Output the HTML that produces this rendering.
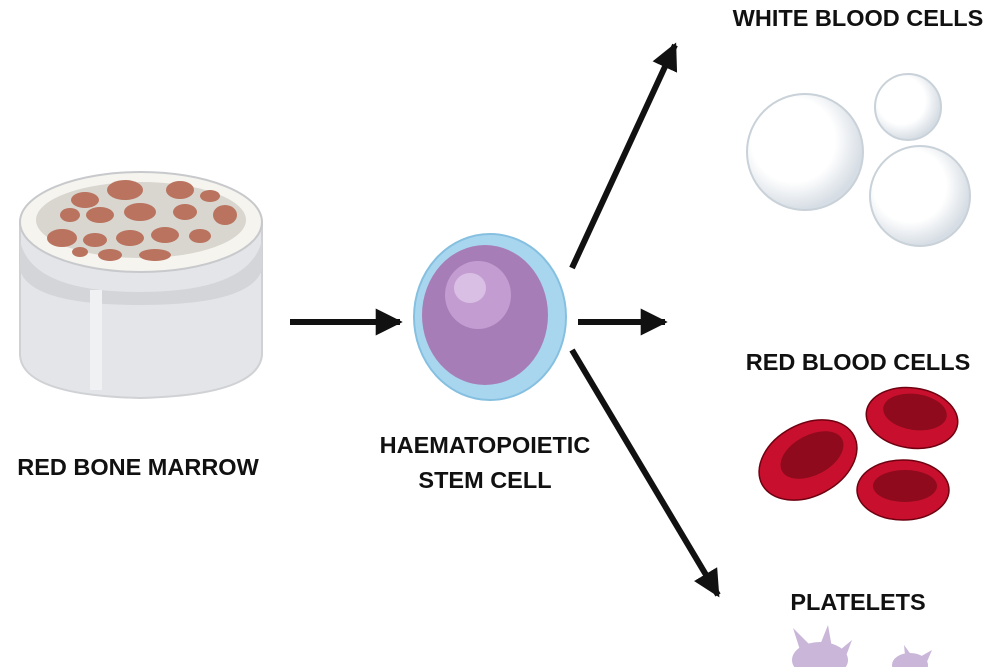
<!DOCTYPE html>
<html><head><meta charset="utf-8"><style>
html,body{margin:0;padding:0;background:#fff;width:1000px;height:667px;overflow:hidden}
svg{display:block}
text{font-family:"Liberation Sans",sans-serif;font-weight:bold;font-size:23.5px;fill:#111}
</style></head><body>
<svg width="1000" height="667" viewBox="0 0 1000 667">
<defs>
<marker id="ah" viewBox="0 0 10 10" refX="9" refY="5" markerWidth="4.5" markerHeight="4.5" orient="auto"><path d="M0,0 L10,5 L0,10 Z" fill="#111"/></marker>
<radialGradient id="wbc" cx="0.4" cy="0.4" r="0.6"><stop offset="0.6" stop-color="#fff"/><stop offset="1" stop-color="#d6dde4"/></radialGradient>
</defs>
<!-- bone -->
<path d="M20,222 L20,355 Q22,395 140,398 Q258,395 262,355 L262,222 Z" fill="#e4e5e8" stroke="#cfd1d4" stroke-width="2"/>
<path d="M20,240 Q30,292 140,292 Q250,292 262,240 L262,270 Q250,305 140,305 Q30,305 20,270Z" fill="#d3d5d9"/>
<rect x="90" y="290" width="12" height="100" fill="#f0f1f3"/>
<ellipse cx="141" cy="222" rx="121" ry="50" fill="#f5f4ee" stroke="#c8c9cc" stroke-width="2"/>
<ellipse cx="141" cy="220" rx="105" ry="38" fill="#d8d6cf"/>
<g fill="#b9735f">
<ellipse cx="85" cy="200" rx="14" ry="8"/><ellipse cx="125" cy="190" rx="18" ry="10"/><ellipse cx="180" cy="190" rx="14" ry="9"/><ellipse cx="210" cy="196" rx="10" ry="6"/>
<ellipse cx="70" cy="215" rx="10" ry="7"/><ellipse cx="100" cy="215" rx="14" ry="8"/><ellipse cx="140" cy="212" rx="16" ry="9"/><ellipse cx="185" cy="212" rx="12" ry="8"/><ellipse cx="225" cy="215" rx="12" ry="10"/>
<ellipse cx="62" cy="238" rx="15" ry="9"/><ellipse cx="95" cy="240" rx="12" ry="7"/><ellipse cx="130" cy="238" rx="14" ry="8"/><ellipse cx="165" cy="235" rx="14" ry="8"/><ellipse cx="200" cy="236" rx="11" ry="7"/>
<ellipse cx="110" cy="255" rx="12" ry="6"/><ellipse cx="155" cy="255" rx="16" ry="6"/><ellipse cx="80" cy="252" rx="8" ry="5"/>
</g>
<!-- stem cell -->
<ellipse cx="490" cy="317" rx="76" ry="83" fill="#a9d6ef" stroke="#86c0e0" stroke-width="2"/>
<ellipse cx="485" cy="315" rx="63" ry="70" fill="#a77db8"/>
<ellipse cx="478" cy="295" rx="33" ry="34" fill="#c39dd1"/>
<ellipse cx="470" cy="288" rx="16" ry="15" fill="#d9bfe3"/>
<!-- arrows -->
<g stroke="#111" stroke-width="6" fill="none">
<line x1="290" y1="322" x2="400" y2="322" marker-end="url(#ah)"/>
<line x1="578" y1="322" x2="665" y2="322" marker-end="url(#ah)"/>
<line x1="572" y1="268" x2="675" y2="45" marker-end="url(#ah)"/>
<line x1="572" y1="350" x2="718" y2="595" marker-end="url(#ah)"/>
</g>
<!-- WBC -->
<g stroke="#c9d1d9" stroke-width="2" fill="url(#wbc)">
<circle cx="805" cy="152" r="58"/>
<circle cx="908" cy="107" r="33"/>
<circle cx="920" cy="196" r="50"/>
</g>
<!-- RBC -->
<g>
<ellipse cx="808" cy="460" rx="52" ry="36" transform="rotate(-28 808 460)" fill="#c8102e" stroke="#6e0010" stroke-width="1.5"/>
<ellipse cx="812" cy="455" rx="34" ry="20" transform="rotate(-28 812 455)" fill="#8e0a1c"/>
<ellipse cx="912" cy="418" rx="46" ry="30" transform="rotate(8 912 418)" fill="#c8102e" stroke="#6e0010" stroke-width="1.5"/>
<ellipse cx="915" cy="412" rx="32" ry="18" transform="rotate(8 915 412)" fill="#8e0a1c"/>
<ellipse cx="903" cy="490" rx="46" ry="30" fill="#c8102e" stroke="#6e0010" stroke-width="1.5"/>
<ellipse cx="905" cy="486" rx="32" ry="16" fill="#8e0a1c"/>
</g>
<!-- platelets -->
<g fill="#c9b6d8">
<ellipse cx="820" cy="660" rx="28" ry="18"/><path d="M800,650 L793,628 L810,645 Z M820,645 L828,625 L832,648Z M840,650 L852,640 L846,656Z"/>
<ellipse cx="910" cy="665" rx="18" ry="12"/><path d="M905,655 L904,645 L912,656Z M918,658 L932,650 L926,664Z"/>
</g>
<!-- text -->
<text x="858" y="26" text-anchor="middle">WHITE BLOOD CELLS</text>
<text x="858" y="370" text-anchor="middle">RED BLOOD CELLS</text>
<text x="858" y="610" text-anchor="middle">PLATELETS</text>
<text x="138" y="475" text-anchor="middle">RED BONE MARROW</text>
<text x="485" y="453" text-anchor="middle">HAEMATOPOIETIC</text>
<text x="485" y="488" text-anchor="middle">STEM CELL</text>
</svg>
</body></html>
